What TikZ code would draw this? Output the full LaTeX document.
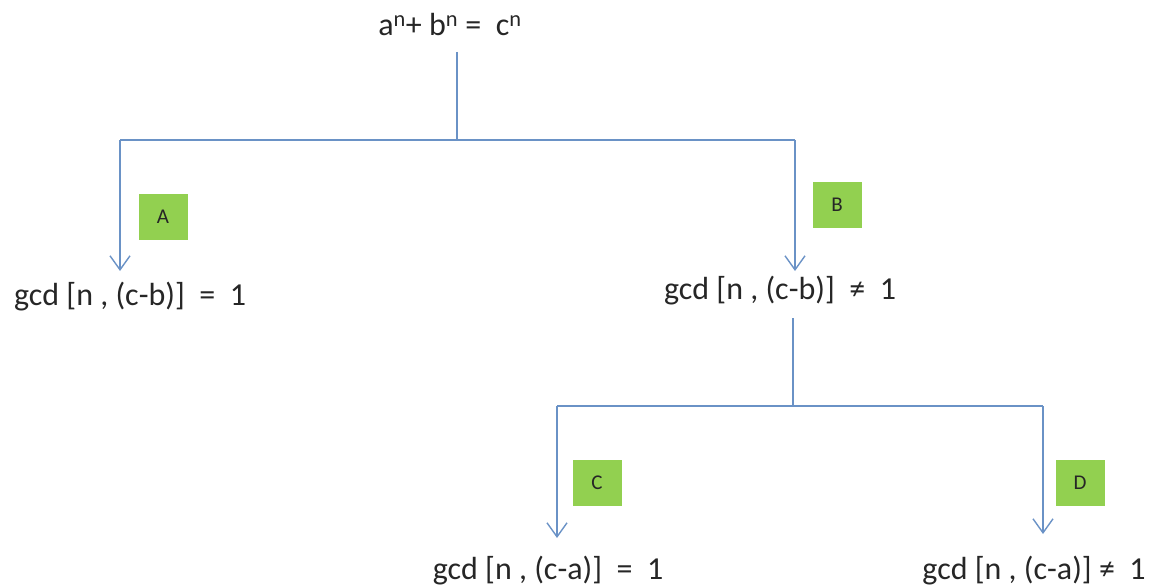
\documentclass[tikz,border=0pt]{standalone}
\usepackage{fontspec}
\setmainfont{Carlito}
\usetikzlibrary{arrows.meta}
\definecolor{linec}{HTML}{6A92C6}
\definecolor{boxg}{HTML}{92D050}
\tikzset{
  conn/.style={draw=linec, line width=1.4pt},
  arr/.style={conn, -{Straight Barb[length=14pt,width=20pt,line width=1.4pt]}},
  lbl/.style={font=\fontsize{32}{38}\selectfont, inner sep=0pt, text=black!85},
  tag/.style={fill=boxg, inner sep=0pt, minimum width=49pt, minimum height=46pt, font=\fontsize{21}{25}\selectfont, text=black!85}
}
\begin{document}
\begin{tikzpicture}[x=1pt,y=-1pt]
\useasboundingbox (0,0) rectangle (1162,588);
\node[lbl] (top) at (450,25) {a\textsuperscript{n}+ b\textsuperscript{n} = \ c\textsuperscript{n}};
\node[lbl] (l1) at (130,297) {gcd [n , (c-b)] \ = \ 1};
\node[lbl] (r1) at (780,291) {gcd [n , (c-b)] \ ≠ \ 1};
\node[lbl] (l2) at (548,571) {gcd [n , (c-a)] \ = \ 1};
\node[lbl] (r2) at (1034,571) {gcd [n , (c-a)] ≠ \ 1};
\node[tag] (A) at (163,217) {A};
\node[tag] (B) at (837,205) {B};
\node[tag] (C) at (597,483) {C};
\node[tag] (D) at (1080,483) {D};
\coordinate (t0) at (457,52);
\coordinate (t1) at (457,140);
\coordinate (tl) at (120,140);
\coordinate (tr) at (795,140);
\coordinate (al) at (120,271);
\coordinate (ar) at (795,271);
\coordinate (m0) at (793,318);
\coordinate (m1) at (793,406);
\coordinate (ml) at (557,406);
\coordinate (mr) at (1043,406);
\coordinate (bl) at (557,538);
\coordinate (br) at (1043,534);
\draw[conn] (t0) -- (t1);
\draw[conn] (tl) -- (tr);
\draw[arr] (tl) -- (al);
\draw[arr] (tr) -- (ar);
\draw[conn] (m0) -- (m1);
\draw[conn] (ml) -- (mr);
\draw[arr] (ml) -- (bl);
\draw[arr] (mr) -- (br);
\end{tikzpicture}
\end{document}
